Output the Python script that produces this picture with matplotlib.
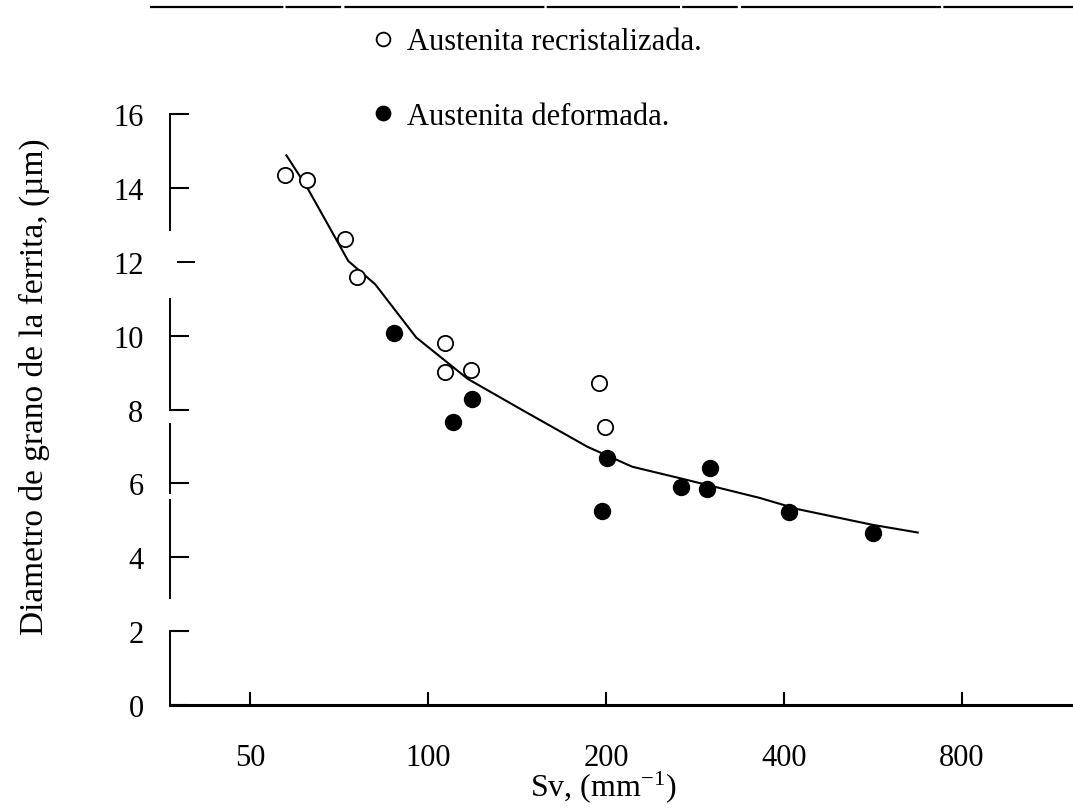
import numpy as np
import matplotlib.pyplot as plt
from matplotlib.lines import Line2D

plt.rcParams['font.family'] = ['Liberation Serif', 'DejaVu Serif']
plt.rcParams['mathtext.fontset'] = 'stix'

# Austenita recristalizada (open circles)
recr_sv = [57.3, 62.5, 72.3, 75.7, 106.8, 106.8, 118.1, 195.0, 199.5]
recr_d = [14.36, 14.22, 12.61, 11.59, 9.79, 9.01, 9.08, 8.73, 7.53]

# Austenita deformada (filled circles)
def_sv = [87.6, 118.9, 110.2, 200.7, 197.0, 268.0, 296.0, 300.0, 407.5, 566.0]
def_d = [10.07, 8.29, 7.65, 6.68, 5.26, 5.89, 5.84, 6.41, 5.22, 4.67]

# fitted curve
fit_sv = [57.6, 62.5, 73.3, 81.4, 95.5, 116.7, 146.4, 186.1, 221.6, 266.8, 363.3, 422.7, 564.0, 673.6]
fit_d = [14.88, 14.0, 12.02, 11.39, 9.95, 8.83, 7.93, 6.99, 6.45, 6.14, 5.61, 5.30, 4.88, 4.67]

xticks = [50, 100, 200, 400, 800]
yticks = [0, 2, 4, 6, 8, 10, 12, 14, 16]

fig = plt.figure(figsize=(10.73, 8.12), dpi=100)
ax = fig.add_axes([0.1584, 0.1305, 0.8416, 0.7279])

ax.plot(fit_sv, fit_d, color='black', lw=1.5)
ax.plot(recr_sv, recr_d, 'o', ms=11, mfc='white', mec='black', mew=1.3,
        label='Austenita recristalizada.')
ax.plot(def_sv, def_d, 'o', ms=11.5, mfc='black', mec='black',
        label='Austenita deformada.')

ax.set_xscale('log', base=2)
ax.set_xlim(36.6, 1233)
ax.set_ylim(0, 16)
ax.set_xticks(xticks)
ax.set_xticklabels([str(v) for v in xticks])
ax.minorticks_off()
ax.set_yticks(yticks)

for s in ['top', 'right', 'left']:
    ax.spines[s].set_visible(False)
ax.spines['bottom'].set_linewidth(2.2)

# broken y axis line, like the scanned original
for y0, y1 in [(12.85, 16), (8.0, 11.0), (5.75, 7.6), (2.9, 5.55), (0, 2.0)]:
    ax.plot([0, 0], [y0, y1], color='black', lw=1.4,
            transform=ax.get_yaxis_transform(), clip_on=False)

ax.tick_params(axis='x', direction='in', length=9.5, width=1.5, pad=27, labelsize=22)
ax.tick_params(axis='y', direction='in', length=14, width=1.5, pad=19, labelsize=22)
# the 12 tick floats off the axis
ax.yaxis.get_major_ticks()[6].tick1line.set_visible(False)
ax.plot([0.009, 0.027], [12, 12], color='black', lw=1.4,
        transform=ax.get_yaxis_transform(), clip_on=False)

ax.set_xlabel('Sv, (mm$^{\\mathregular{-1}}$)', fontsize=23)
ax.xaxis.set_label_coords(0.48, -0.108)
ax.set_ylabel('Diametro de grano de la ferrita, (µm)', fontsize=24)
ax.yaxis.set_label_coords(-0.133, 0.54)

ax.legend(loc='upper left', bbox_to_anchor=(0.3225, 0.999), bbox_transform=fig.transFigure,
          frameon=False, fontsize=22, handlelength=0.6, handletextpad=0.5,
          labelspacing=1.48, markerscale=0.9)

# top border line of the scanned page
fig.add_artist(Line2D([0.14, 1.0], [0.99, 0.99], color='black', lw=1.6,
                      dashes=(60, 1, 25, 1.5, 90, 1), transform=fig.transFigure))

fig.savefig('out.png', dpi=100)
